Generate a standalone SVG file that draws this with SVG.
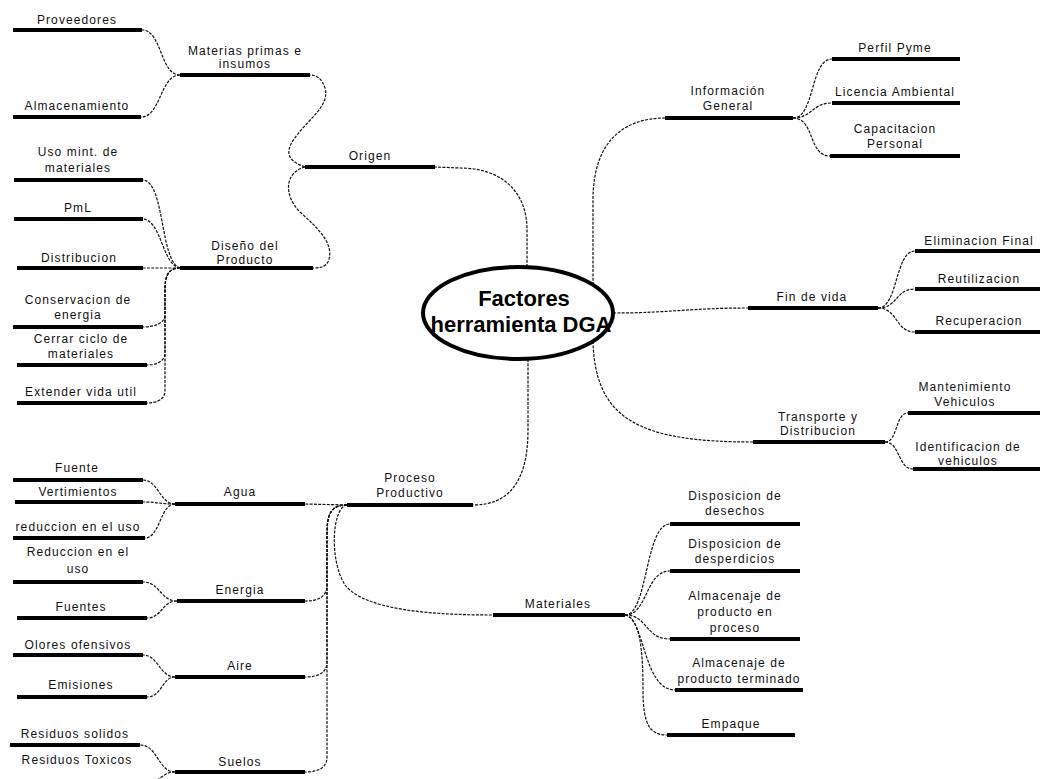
<svg xmlns="http://www.w3.org/2000/svg" width="1040" height="779" viewBox="0 0 1040 779">
  <style>
    .bar { stroke: #000; stroke-width: 4; }
    .lbl { font-family: "Liberation Sans", Arial, sans-serif; font-size: 12px; letter-spacing: 1.1px; fill: #111; text-anchor: middle; }
    .link { fill: none; stroke: #111; stroke-width: 1.2; stroke-dasharray: 3 1.3; }
    .hub { fill: #fff; stroke: #000; stroke-width: 4; }
    .hubtxt { font-family: "Liberation Sans", Arial, sans-serif; font-size: 22px; font-weight: bold; fill: #000; text-anchor: middle; }
  </style>
  <rect width="1040" height="779" fill="#fff"/>

  <!-- connectors -->
  <g id="connectors">
    <!-- hub to main branches -->
    <path class="link" d="M527,267 L527,230 C527,190 500,168 460,168 L435,167"/>
    <path class="link" d="M593,285 L593,200 C593,140 625,118 665,118"/>
    <path class="link" d="M613,313 C670,313 690,308 748,308"/>
    <path class="link" d="M593,341 C595,420 640,442 753,442"/>
    <path class="link" d="M528,359 L528,430 C528,480 510,505 473,505"/>

    <!-- Origen -->
    <path class="link" d="M305,167 C285,160 285,150 297,135 C310,118 330,105 325,88 C322,79 317,75 310,75"/>
    <path class="link" d="M305,167 C285,172 283,195 300,212 C320,230 335,245 328,262 C325,267 320,268 313,268"/>

    <!-- Materias primas e insumos -->
    <path class="link" d="M180,75 C160,75 162,30 142,30"/>
    <path class="link" d="M180,75 C160,75 161,117 141,117"/>

    <!-- Diseño del Producto -->
    <path class="link" d="M180,268 C160,262 165,182 143,180"/>
    <path class="link" d="M180,268 C162,265 162,221 143,219"/>
    <path class="link" d="M180,268 L143,268"/>
    <path class="link" d="M180,268 C167,268 165,278 165,290 L165,315 C165,323 155,327 143,327"/>
    <path class="link" d="M180,268 C167,268 165,278 165,290 L165,353 C165,361 157,365 147,365"/>
    <path class="link" d="M180,268 C167,268 165,278 165,290 L165,391 C165,399 157,403 147,403"/>

    <!-- Información General -->
    <path class="link" d="M793,118 C815,118 810,59 832,59"/>
    <path class="link" d="M793,118 C812,118 812,103 832,103"/>
    <path class="link" d="M793,118 C815,118 808,156 830,156"/>

    <!-- Fin de vida -->
    <path class="link" d="M878,308 C898,308 895,251 915,251"/>
    <path class="link" d="M878,308 C898,308 895,289 915,289"/>
    <path class="link" d="M878,308 C898,308 895,332 915,332"/>

    <!-- Transporte y Distribucion -->
    <path class="link" d="M885,442 C898,442 895,413 908,413"/>
    <path class="link" d="M885,442 C900,442 898,469 913,469"/>

    <!-- Proceso Productivo -->
    <path class="link" d="M347,505 L305,504"/>
    <path class="link" d="M347,505 C330,505 327,515 327,535 L327,585 C327,597 318,601 305,601"/>
    <path class="link" d="M347,505 C330,505 327,515 327,535 L327,662 C327,673 318,677 305,677"/>
    <path class="link" d="M347,505 C330,505 327,515 327,535 L327,757 C327,768 318,772 305,772"/>
    <path class="link" d="M347,505 C332,507 329,560 345,585 C365,610 430,615 493,615"/>

    <!-- Agua -->
    <path class="link" d="M175,504 C160,504 158,480 143,480"/>
    <path class="link" d="M175,504 C160,504 158,502 143,502"/>
    <path class="link" d="M175,504 C160,504 160,538 145,538"/>

    <!-- Energia -->
    <path class="link" d="M177,601 C160,601 160,582 143,582"/>
    <path class="link" d="M177,601 C162,601 162,618 147,618"/>

    <!-- Aire -->
    <path class="link" d="M175,677 C160,677 158,655 143,655"/>
    <path class="link" d="M175,677 C162,677 162,697 147,697"/>

    <!-- Suelos -->
    <path class="link" d="M175,772 C158,772 158,745 140,745"/>
    <path class="link" d="M175,772 C162,772 160,782 145,786"/>

    <!-- Materiales -->
    <path class="link" d="M625,615 C648,615 645,524 670,524"/>
    <path class="link" d="M625,615 C648,615 645,571 670,571"/>
    <path class="link" d="M625,615 C648,615 645,639 670,639"/>
    <path class="link" d="M625,615 C645,618 643,690 675,690"/>
    <path class="link" d="M625,615 C640,618 643,650 643,690 C643,725 650,735 667,735"/>
  </g>

  <!-- central topic -->
  <g id="hub">
    <ellipse class="hub" cx="518" cy="313" rx="95" ry="46"/>
    <text class="hubtxt" x="524" y="306">Factores</text>
    <text class="hubtxt" x="521" y="332">herramienta DGA</text>
  </g>

  <!-- Origen branch -->
  <g id="origen">
    <line class="bar" x1="305" y1="167" x2="435" y2="167"/>
    <text class="lbl" x="370" y="160">Origen</text>
  </g>
  <g id="materias-primas">
    <line class="bar" x1="180" y1="75" x2="310" y2="75"/>
    <text class="lbl" x="245" y="55">Materias primas e</text>
    <text class="lbl" x="245" y="68">insumos</text>
  </g>
  <g id="proveedores">
    <line class="bar" x1="13" y1="30" x2="142" y2="30"/>
    <text class="lbl" x="77" y="24">Proveedores</text>
  </g>
  <g id="almacenamiento">
    <line class="bar" x1="13" y1="117" x2="141" y2="117"/>
    <text class="lbl" x="77" y="110">Almacenamiento</text>
  </g>
  <g id="diseno-producto">
    <line class="bar" x1="180" y1="268" x2="313" y2="268"/>
    <text class="lbl" x="245" y="250">Diseño del</text>
    <text class="lbl" x="245" y="264">Producto</text>
  </g>
  <g id="uso-min">
    <line class="bar" x1="14" y1="180" x2="143" y2="180"/>
    <text class="lbl" x="78" y="156">Uso mint. de</text>
    <text class="lbl" x="78" y="172">materiales</text>
  </g>
  <g id="pml">
    <line class="bar" x1="14" y1="219" x2="143" y2="219"/>
    <text class="lbl" x="78" y="212">PmL</text>
  </g>
  <g id="distribucion">
    <line class="bar" x1="17" y1="268" x2="143" y2="268"/>
    <text class="lbl" x="79" y="262">Distribucion</text>
  </g>
  <g id="conservacion">
    <line class="bar" x1="13" y1="327" x2="143" y2="327"/>
    <text class="lbl" x="78" y="304">Conservacion de</text>
    <text class="lbl" x="78" y="319">energia</text>
  </g>
  <g id="cerrar-ciclo">
    <line class="bar" x1="17" y1="365" x2="147" y2="365"/>
    <text class="lbl" x="81" y="343">Cerrar ciclo de</text>
    <text class="lbl" x="81" y="358">materiales</text>
  </g>
  <g id="extender-vida">
    <line class="bar" x1="17" y1="403" x2="147" y2="403"/>
    <text class="lbl" x="81" y="396">Extender vida util</text>
  </g>

  <!-- Información General branch -->
  <g id="informacion-general">
    <line class="bar" x1="665" y1="118" x2="793" y2="118"/>
    <text class="lbl" x="728" y="95">Información</text>
    <text class="lbl" x="728" y="110">General</text>
  </g>
  <g id="perfil-pyme">
    <line class="bar" x1="832" y1="59" x2="960" y2="59"/>
    <text class="lbl" x="895" y="52">Perfil Pyme</text>
  </g>
  <g id="licencia-ambiental">
    <line class="bar" x1="832" y1="103" x2="960" y2="103"/>
    <text class="lbl" x="895" y="96">Licencia Ambiental</text>
  </g>
  <g id="capacitacion">
    <line class="bar" x1="830" y1="156" x2="960" y2="156"/>
    <text class="lbl" x="895" y="133">Capacitacion</text>
    <text class="lbl" x="895" y="148">Personal</text>
  </g>

  <!-- Fin de vida branch -->
  <g id="fin-de-vida">
    <line class="bar" x1="748" y1="308" x2="878" y2="308"/>
    <text class="lbl" x="812" y="301">Fin de vida</text>
  </g>
  <g id="eliminacion-final">
    <line class="bar" x1="915" y1="251" x2="1040" y2="251"/>
    <text class="lbl" x="979" y="245">Eliminacion Final</text>
  </g>
  <g id="reutilizacion">
    <line class="bar" x1="915" y1="289" x2="1040" y2="289"/>
    <text class="lbl" x="979" y="283">Reutilizacion</text>
  </g>
  <g id="recuperacion">
    <line class="bar" x1="915" y1="332" x2="1040" y2="332"/>
    <text class="lbl" x="979" y="325">Recuperacion</text>
  </g>

  <!-- Transporte y Distribucion branch -->
  <g id="transporte">
    <line class="bar" x1="753" y1="442" x2="885" y2="442"/>
    <text class="lbl" x="818" y="421">Transporte y</text>
    <text class="lbl" x="818" y="435">Distribucion</text>
  </g>
  <g id="mantenimiento">
    <line class="bar" x1="908" y1="413" x2="1040" y2="413"/>
    <text class="lbl" x="965" y="391">Mantenimiento</text>
    <text class="lbl" x="965" y="406">Vehiculos</text>
  </g>
  <g id="identificacion">
    <line class="bar" x1="913" y1="469" x2="1040" y2="469"/>
    <text class="lbl" x="968" y="451">Identificacion de</text>
    <text class="lbl" x="968" y="465">vehiculos</text>
  </g>

  <!-- Proceso Productivo branch -->
  <g id="proceso-productivo">
    <line class="bar" x1="347" y1="505" x2="473" y2="505"/>
    <text class="lbl" x="410" y="482">Proceso</text>
    <text class="lbl" x="410" y="497">Productivo</text>
  </g>
  <g id="agua">
    <line class="bar" x1="175" y1="504" x2="305" y2="504"/>
    <text class="lbl" x="240" y="496">Agua</text>
  </g>
  <g id="fuente">
    <line class="bar" x1="13" y1="480" x2="143" y2="480"/>
    <text class="lbl" x="77" y="472">Fuente</text>
  </g>
  <g id="vertimientos">
    <line class="bar" x1="15" y1="502" x2="143" y2="502"/>
    <text class="lbl" x="78" y="496">Vertimientos</text>
  </g>
  <g id="reduccion-agua">
    <line class="bar" x1="13" y1="538" x2="145" y2="538"/>
    <text class="lbl" x="78" y="531">reduccion en el uso</text>
  </g>
  <g id="energia">
    <line class="bar" x1="177" y1="601" x2="305" y2="601"/>
    <text class="lbl" x="240" y="594">Energia</text>
  </g>
  <g id="reduccion-energia">
    <line class="bar" x1="13" y1="582" x2="143" y2="582"/>
    <text class="lbl" x="78" y="556">Reduccion en el</text>
    <text class="lbl" x="78" y="573">uso</text>
  </g>
  <g id="fuentes">
    <line class="bar" x1="17" y1="618" x2="147" y2="618"/>
    <text class="lbl" x="81" y="611">Fuentes</text>
  </g>
  <g id="aire">
    <line class="bar" x1="175" y1="677" x2="305" y2="677"/>
    <text class="lbl" x="240" y="670">Aire</text>
  </g>
  <g id="olores">
    <line class="bar" x1="13" y1="655" x2="143" y2="655"/>
    <text class="lbl" x="78" y="649">Olores ofensivos</text>
  </g>
  <g id="emisiones">
    <line class="bar" x1="17" y1="697" x2="147" y2="697"/>
    <text class="lbl" x="81" y="689">Emisiones</text>
  </g>
  <g id="suelos">
    <line class="bar" x1="175" y1="772" x2="305" y2="772"/>
    <text class="lbl" x="240" y="766">Suelos</text>
  </g>
  <g id="residuos-solidos">
    <line class="bar" x1="10" y1="745" x2="140" y2="745"/>
    <text class="lbl" x="75" y="738">Residuos solidos</text>
  </g>
  <g id="residuos-toxicos">
    <text class="lbl" x="77" y="764">Residuos Toxicos</text>
  </g>

  <!-- Materiales branch -->
  <g id="materiales">
    <line class="bar" x1="493" y1="615" x2="625" y2="615"/>
    <text class="lbl" x="558" y="608">Materiales</text>
  </g>
  <g id="disposicion-desechos">
    <line class="bar" x1="670" y1="524" x2="800" y2="524"/>
    <text class="lbl" x="735" y="500">Disposicion de</text>
    <text class="lbl" x="735" y="515">desechos</text>
  </g>
  <g id="disposicion-desperdicios">
    <line class="bar" x1="670" y1="571" x2="800" y2="571"/>
    <text class="lbl" x="735" y="548">Disposicion de</text>
    <text class="lbl" x="735" y="563">desperdicios</text>
  </g>
  <g id="almacenaje-proceso">
    <line class="bar" x1="670" y1="639" x2="800" y2="639"/>
    <text class="lbl" x="735" y="600">Almacenaje de</text>
    <text class="lbl" x="735" y="616">producto en</text>
    <text class="lbl" x="735" y="632">proceso</text>
  </g>
  <g id="almacenaje-terminado">
    <line class="bar" x1="675" y1="690" x2="803" y2="690"/>
    <text class="lbl" x="739" y="667">Almacenaje de</text>
    <text class="lbl" x="739" y="683">producto terminado</text>
  </g>
  <g id="empaque">
    <line class="bar" x1="667" y1="735" x2="795" y2="735"/>
    <text class="lbl" x="731" y="728">Empaque</text>
  </g>
</svg>
